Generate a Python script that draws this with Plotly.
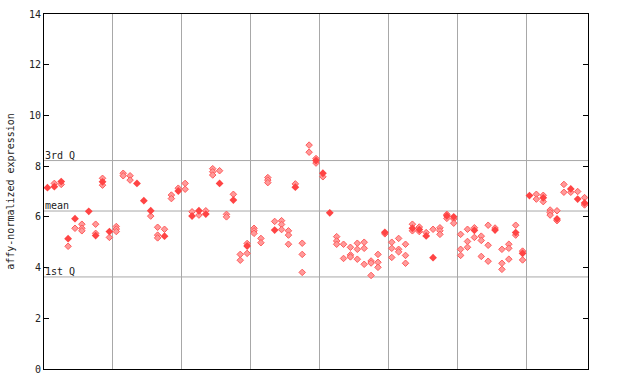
import plotly.graph_objects as go

# Positions (sample index) and values for solid (filled) diamonds
filled_x = [0, 1, 2, 3, 4, 6, 7, 8, 9, 13, 14, 15, 17, 19, 21, 22, 23, 25, 27, 29,
            33, 36, 39, 40, 41, 49, 53, 54, 55, 56, 58, 59, 62, 65, 68, 69, 70, 72,
            74, 76, 77, 78]
filled_y = [7.15, 7.19, 7.39, 5.14, 5.93, 6.22, 5.26, 7.38, 5.42, 7.32, 6.64, 6.24, 5.24,
            7.02, 6.03, 6.24, 6.11, 7.32, 6.66, 4.85, 5.48, 7.17, 8.22, 7.72, 6.16, 5.39,
            5.55, 5.50, 5.25, 4.39, 6.04, 6.00, 5.47, 5.48, 5.38, 4.56, 6.84, 6.75, 5.92,
            7.10, 6.70, 6.55]

# Positions and values for light (checkered) diamonds
hollow_x = [1, 2, 3, 4, 5, 5, 5, 7, 7, 8, 8, 9, 10, 10, 10, 11, 11, 12, 12, 15,
            16, 16, 16, 17, 18, 18, 19, 20, 20, 21, 22, 23, 24, 24, 24, 25, 26, 26,
            27, 28, 28, 29, 29, 30, 30, 30, 31, 31, 32, 32, 32, 33, 34, 34, 34, 35,
            35, 35, 36, 37, 37, 37, 38, 38, 39, 39, 40, 42, 42, 42, 43, 43, 44, 44,
            44, 45, 45, 45, 46, 46, 46, 47, 47, 47, 48, 48, 48, 49, 50, 50, 50, 51,
            51, 51, 52, 52, 52, 53, 53, 54, 54, 55, 56, 57, 57, 57, 58, 58, 59, 59,
            60, 60, 60, 61, 61, 61, 62, 62, 63, 63, 63, 64, 64, 64, 65, 66, 66, 66,
            67, 67, 67, 68, 68, 69, 69, 71, 71, 72, 72, 73, 73, 73, 74, 74, 75, 75,
            76, 77, 78, 78]
hollow_y = [7.32, 7.28, 4.84, 5.55, 5.71, 5.55, 5.45, 5.71, 5.35, 7.52, 7.25, 5.19, 5.62,
            5.52, 5.42, 7.72, 7.62, 7.62, 7.45, 6.03, 5.59, 5.28, 5.17, 5.51, 6.86, 6.72,
            7.13, 7.32, 7.09, 6.20, 6.07, 6.24, 7.90, 7.78, 7.65, 7.82, 6.10, 6.00, 6.89,
            4.52, 4.29, 4.95, 4.56, 5.55, 5.45, 5.35, 5.15, 4.98, 7.55, 7.45, 7.35, 5.82,
            5.85, 5.70, 5.50, 5.45, 5.28, 4.92, 7.30, 4.96, 4.52, 3.81, 8.83, 8.55, 8.30,
            8.12, 7.58, 5.22, 5.05, 4.92, 4.92, 4.36, 4.80, 4.50, 4.42, 4.96, 4.72, 4.33,
            5.00, 4.76, 4.13, 4.26, 4.18, 3.69, 4.52, 4.21, 4.01, 5.33, 5.00, 4.76, 4.40,
            5.15, 4.72, 4.62, 4.92, 4.48, 4.17, 5.71, 5.45, 5.60, 5.42, 5.38, 5.51, 5.57,
            5.45, 5.31, 6.10, 5.94, 5.92, 5.75, 5.31, 4.72, 4.48, 5.51, 5.03, 4.80, 5.57,
            5.19, 5.24, 5.07, 4.44, 5.67, 4.88, 4.25, 5.56, 4.72, 4.17, 3.93, 4.92, 4.76,
            4.33, 5.67, 5.28, 4.65, 4.30, 6.89, 6.70, 6.85, 6.60, 6.27, 6.17, 6.07, 6.24,
            5.85, 7.28, 6.97, 6.97, 7.00, 6.76, 6.47]

# Summary lines
q3_value = 8.22
mean_value = 6.23
q1_value = 3.63
stat_labels = ["3rd Q", "mean", "1st Q"]

y_ticks = [0, 2, 4, 6, 8, 10, 12, 14]
group_bounds = [9.5, 19.5, 29.5, 39.5, 49.5, 59.5, 69.5]
n_positions = 79

fig = go.Figure()
fig.add_trace(go.Scatter(
    x=hollow_x, y=hollow_y, mode="markers",
    marker=dict(symbol="diamond", size=5, color="#ff9a9a",
                line=dict(color="#ff5a5a", width=1)),
    showlegend=False, hoverinfo="y"))
fig.add_trace(go.Scatter(
    x=filled_x, y=filled_y, mode="markers",
    marker=dict(symbol="diamond", size=6, color="#ff4444",
                line=dict(width=0)),
    showlegend=False, hoverinfo="y"))

for val, lab in zip([q3_value, mean_value, q1_value], stat_labels):
    fig.add_shape(type="line", xref="paper", yref="y", x0=0, x1=1, y0=val, y1=val,
                  line=dict(color="#a8a8a8", width=1), layer="below")
    fig.add_annotation(x=0, xref="paper", y=val, yref="y", text=lab, showarrow=False,
                       xanchor="left", yanchor="bottom", xshift=-1, yshift=-2,
                       font=dict(family="DejaVu Sans Mono", size=10, color="#222222"))

fig.update_layout(
    width=640, height=384,
    margin=dict(l=44, r=52, t=14, b=15),
    paper_bgcolor="white", plot_bgcolor="white",
    font=dict(family="DejaVu Sans Mono", size=10, color="#222222"),
    xaxis=dict(range=[-0.5, n_positions - 0.5], tickvals=group_bounds,
               showticklabels=False, ticks="", showgrid=True, automargin=False,
               gridcolor="#a8a8a8", gridwidth=1, zeroline=False,
               showline=True, linecolor="black", linewidth=1, mirror=True),
    yaxis=dict(range=[0, 14], tickvals=y_ticks, ticks="inside", ticklen=5,
               tickcolor="black", showgrid=False, zeroline=False, automargin=False,
               showline=True, linecolor="black", linewidth=1, mirror="ticks",
               title=dict(text="affy-normalized expression", standoff=12,
                          font=dict(family="DejaVu Sans Mono", size=10)),
               tickfont=dict(family="DejaVu Sans Mono", size=10)),
)

fig.write_html("out.html")
